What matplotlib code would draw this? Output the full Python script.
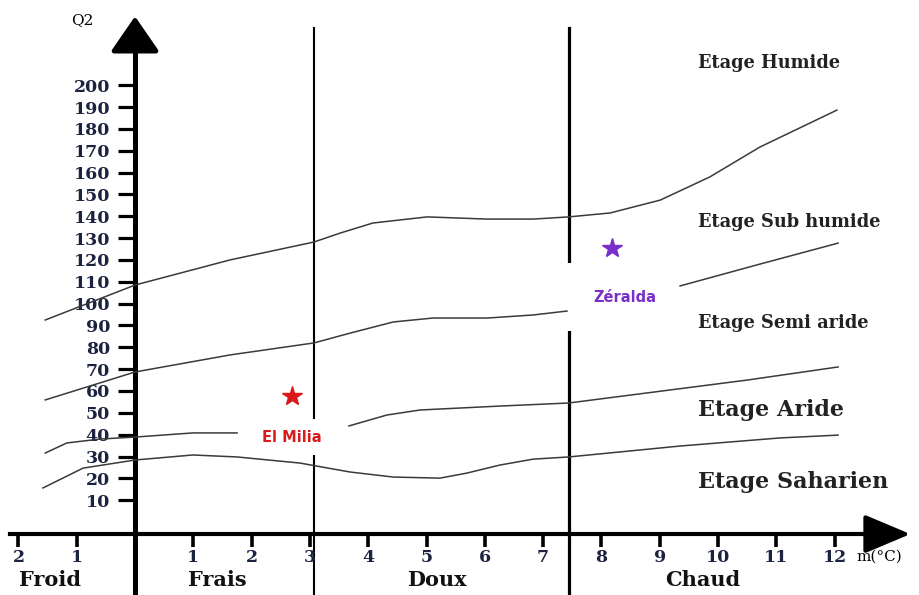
import matplotlib.pyplot as plt

# Emberger climagram: Q2 against m (mean minimum of the coldest month, °C)

m_ticks = [-2, -1, 1, 2, 3, 4, 5, 6, 7, 8, 9, 10, 11, 12]
m_tick_labels = ['2', '1', '1', '2', '3', '4', '5', '6', '7', '8', '9', '10', '11', '12']
q2_ticks = list(range(10, 210, 10))

# winter variants and where their names sit along m
winter_names = ['Froid', 'Frais', 'Doux', 'Chaud']
winter_pos = [-1.46, 1.41, 5.18, 9.74]
winter_limits = [3.07, 7.44]

# bioclimatic stage limits (m, Q2)
humide_m = [-1.54, 0.0, 1.63, 3.07, 3.52, 4.08, 5.01, 6.04, 6.83, 7.44, 8.15, 9.01, 9.86, 10.72, 12.04]
humide_q2 = [92.5, 108.5, 120.0, 128.2, 132.3, 136.9, 139.7, 138.7, 138.7, 139.7, 141.5, 147.4, 158.0, 171.7, 188.6]

subhum_m = [-1.54, 0.0, 1.63, 3.07, 3.69, 4.43, 5.11, 6.04, 6.83, 7.41]
subhum_q2 = [55.9, 68.7, 76.5, 82.0, 86.5, 91.6, 93.4, 93.4, 94.8, 96.6]
subhum2_m = [9.35, 10.72, 12.06]
subhum2_q2 = [108.1, 118.1, 127.7]

semiar_m = [-1.54, -1.17, -0.60, 0.0, 0.99, 1.75]
semiar_q2 = [31.6, 36.2, 38.0, 38.9, 40.8, 40.8]
semiar2_m = [3.67, 4.32, 4.89, 6.26, 7.44, 8.78, 10.50, 12.06]
semiar2_q2 = [44.0, 49.0, 51.3, 53.1, 54.5, 59.1, 65.0, 71.0]

aride_m = [-1.58, -0.89, 0.0, 0.99, 1.75, 2.83, 3.69, 4.43, 5.23, 5.69, 6.26, 6.83, 7.44, 9.35, 11.06, 12.06]
aride_q2 = [15.6, 24.7, 28.4, 30.7, 29.8, 27.0, 22.9, 20.6, 20.1, 22.4, 26.1, 28.8, 29.8, 34.8, 38.5, 39.8]

stage_names = ['Etage Humide', 'Etage Sub humide', 'Etage Semi aride', 'Etage Aride', 'Etage Saharien']
stage_q2 = [210.2, 137.4, 91.1, 51.3, 18.3]
stage_sizes = [12.8, 12.8, 12.8, 16, 16]

# stations
stations = ['El Milia', 'Zéralda']
station_m = [2.69, 8.18]
station_q2 = [57.7, 125.5]
station_colors = ['#d91a1a', '#7a2fc9']

fig = plt.figure(figsize=(9.2, 5.95), dpi=100)
ax = fig.add_axes([0, 0, 1, 1])
ax.set_xlim(-2.316, 13.465)
ax.set_ylim(-33.4, 239.0)

x_axis_q2 = -5.5
ink = '#1c2340'

# axes drawn as thick arrows through the origin
for side in ['top', 'right']:
    ax.spines[side].set_visible(False)
ax.spines['left'].set_position(('data', 0))
ax.spines['left'].set_linewidth(3.6)
ax.spines['left'].set_bounds(-33.4, 222)
ax.spines['bottom'].set_position(('data', x_axis_q2))
ax.spines['bottom'].set_linewidth(3.0)
ax.spines['bottom'].set_bounds(-2.15, 12.8)

ax.annotate('', xy=(0, 231.5), xytext=(0, 220), zorder=6,
            arrowprops=dict(arrowstyle='-|>,head_length=1.45,head_width=1.0',
                            mutation_scale=15, color='black', lw=3.6, shrinkA=0, shrinkB=0))
ax.annotate('', xy=(13.3, x_axis_q2), xytext=(12.6, x_axis_q2), zorder=6,
            arrowprops=dict(arrowstyle='-|>,head_length=1.9,head_width=0.8',
                            mutation_scale=15, color='black', lw=3.0, shrinkA=0, shrinkB=0))

ax.set_yticks(q2_ticks)
ax.set_yticklabels([str(v) for v in q2_ticks])
ax.set_xticks(m_ticks)
ax.set_xticklabels(m_tick_labels)
ax.tick_params(axis='y', direction='out', length=12, width=2.3, pad=6, color='black')
ax.tick_params(axis='x', direction='out', length=9, width=2.6, pad=2, color='black')
for lab in ax.get_yticklabels() + ax.get_xticklabels():
    lab.set_fontfamily('DejaVu Serif')
    lab.set_fontweight('bold')
    lab.set_fontsize(12.5)
    lab.set_color(ink)

# winter variant limits
ax.axvline(winter_limits[0], ymax=0.953, color='black', lw=1.5, zorder=1)
ax.axvline(winter_limits[1], ymax=0.953, color='black', lw=2.3, zorder=1)

curve_style = dict(color='#3a3a3a', lw=1.1, zorder=4)
ax.plot(humide_m, humide_q2, **curve_style)
ax.plot(subhum_m, subhum_q2, **curve_style)
ax.plot(subhum2_m, subhum2_q2, **curve_style)
ax.plot(semiar_m, semiar_q2, **curve_style)
ax.plot(semiar2_m, semiar2_q2, **curve_style)
ax.plot(aride_m, aride_q2, **curve_style)

for name, q, fs in zip(stage_names, stage_q2, stage_sizes):
    ax.text(9.66, q, name, family='DejaVu Serif', weight='bold', fontsize=fs,
            va='center', ha='left', color='#222222')

for name, pos in zip(winter_names, winter_pos):
    ax.text(pos, -26.6, name, family='DejaVu Serif', weight='bold', fontsize=15,
            va='center', ha='center', color='#111111')

ax.text(-0.91, 229.9, 'Q2', family='DejaVu Serif', fontsize=11, va='center', ha='center')
ax.text(12.38, -16, 'm(°C)', family='DejaVu Serif', fontsize=11, va='center', ha='left')

# stations with their names on white boxes
pads = [0.7, 1.8]
label_dm = [0.0, 0.22]
label_dq = [-18.8, -22.5]
for name, m, q, c, pad, dm, dq in zip(stations, station_m, station_q2, station_colors,
                                     pads, label_dm, label_dq):
    ax.plot(m, q, marker='*', ms=15, color=c, mec=c, zorder=5, ls='none')
    ax.text(m + dm, q + dq, name, family='DejaVu Sans', weight='bold', fontsize=10.5,
            color=c, ha='center', va='center', zorder=3,
            bbox=dict(boxstyle='square,pad=%.1f' % pad, fc='white', ec='none'))

fig.savefig('out.png', dpi=100)
